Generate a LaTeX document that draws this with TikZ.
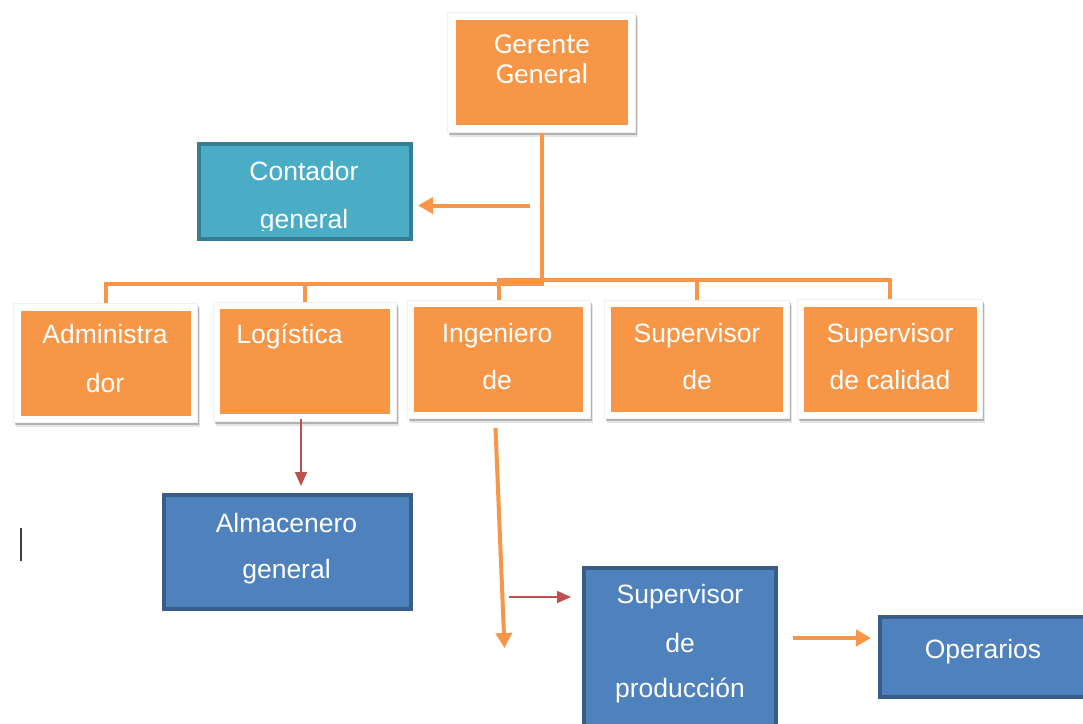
\documentclass[tikz,border=0pt]{standalone}
\usepackage{fontspec}
\newfontfamily\arial{Liberation Sans}
\newfontfamily\calib{Carlito}
\usetikzlibrary{arrows.meta,shadows}
\definecolor{org}{HTML}{F79646}
\definecolor{tealf}{HTML}{4BACC6}
\definecolor{teald}{HTML}{357D92}
\definecolor{bluef}{HTML}{4F81BD}
\definecolor{blued}{HTML}{385D8A}
\definecolor{redl}{HTML}{C0504D}
\begin{document}
\begin{tikzpicture}[x=1pt,y=-1pt,
 frame/.style={fill=white, draw=black!6, line width=1pt, inner sep=0,
   general shadow={shadow xshift=2pt, shadow yshift=-4pt, fill=black, opacity=0.10},
   general shadow={shadow xshift=1.5pt, shadow yshift=-2.5pt, fill=black, opacity=0.22}},
 obox/.style={fill=org, draw=none, inner sep=0},
 bbox/.style={fill=bluef, draw=blued, line width=4pt, inner sep=0},
 tbox/.style={fill=tealf, draw=teald, line width=4pt, inner sep=0},
 lbl/.style={text=white, inner sep=0, anchor=base, font=\arial\fontsize{26.5}{30}\selectfont},
 glbl/.style={lbl, font=\calib\fontsize{29}{30}\selectfont},
 conn/.style={draw=org, line width=4pt},
 oarrow/.style={draw=org, line width=4pt, -{Triangle[length=15pt,width=16pt]}},
 rarrow/.style={draw=redl, line width=1.5pt, -{Triangle[length=14pt,width=12pt]}},
]
\clip (0,0) rectangle (1083,723);
\fill[white] (0,0) rectangle (1083,723);

% top box
\node[frame, minimum width=188pt, minimum height=120pt] (gerF) at (541.5,72.5) {};
\node[obox, minimum width=172pt, minimum height=105pt] (ger) at (542,72.5) {};
\node[glbl] (gerT1) at (542,53) {Gerente};
\node[glbl] (gerT2) at (542,83) {General};

% contador
\node[tbox, minimum width=212pt, minimum height=95pt] (cont) at (305,191.5) {};
\node[lbl] (contT1) at (304,180) {Contador};
\begin{scope}
\clip (0,0) rectangle (1083,230.5);
\node[lbl] (contT2) at (304,228) {general};
\end{scope}

% second row
\node[frame, minimum width=184pt, minimum height=119pt] (admF) at (105.5,363) {};
\node[obox, minimum width=170pt, minimum height=105pt] (adm) at (106,363.5) {};
\node[lbl] (admT1) at (105,343) {Administra};
\node[lbl] (admT2) at (105,392) {dor};

\node[frame, minimum width=183pt, minimum height=119pt] (logF) at (305,362) {};
\node[obox, minimum width=170pt, minimum height=105pt] (log) at (305,361.5) {};
\node[lbl] (logT) at (289.5,343) {Logística};

\node[frame, minimum width=183pt, minimum height=118pt] (ingF) at (499,359.5) {};
\node[obox, minimum width=169pt, minimum height=105pt] (ing) at (498.5,359.5) {};
\node[lbl] (ingT1) at (497,342) {Ingeniero};
\node[lbl] (ingT2) at (497,389) {de};

\node[frame, minimum width=185pt, minimum height=118pt] (supF) at (697,359.5) {};
\node[obox, minimum width=172pt, minimum height=105pt] (sup) at (697,359.5) {};
\node[lbl] (supT1) at (697,342) {Supervisor};
\node[lbl] (supT2) at (697,389) {de};

\node[frame, minimum width=185pt, minimum height=119pt] (calF) at (890,359) {};
\node[obox, minimum width=173pt, minimum height=105pt] (cal) at (890.5,359.5) {};
\node[lbl] (calT1) at (890,342) {Supervisor};
\node[lbl] (calT2) at (890,389) {de calidad};

% blue boxes
\node[bbox, minimum width=247pt, minimum height=114pt] (alm) at (287.5,552) {};
\node[lbl] (almT1) at (286.5,532) {Almacenero};
\node[lbl] (almT2) at (286.5,578) {general};

\node[bbox, minimum width=192pt, minimum height=180pt] (sp) at (680,658) {};
\node[lbl] (spT1) at (680,603) {Supervisor};
\node[lbl] (spT2) at (680,652) {de};
\node[lbl] (spT3) at (680,697) {producción};

\node[bbox, minimum width=220pt, minimum height=80pt] (op) at (990,657) {};
\node[lbl] (opT) at (983,658) {Operarios};

% connectors
\coordinate (jl) at (543,283.5);
\coordinate (jr) at (499,280);
\draw[conn] (gerF.south) -- (gerF.south |- jl) -| (admF.north);
\draw[conn] (logF.north |- jl) -- (logF.north);
\draw[conn] (ingF.north) |- (calF.north |- jr) -- (calF.north);
\draw[conn] (supF.north |- jr) -- (supF.north);

\coordinate (ca) at (530,205.5);
\draw[oarrow] (ca) -- ([xshift=5pt]ca -| cont.east);

\coordinate (la) at (301,419);
\draw[rarrow, shorten >=7pt] (la) -- (la |- alm.north);

\coordinate (ia) at (495.5,428);
\coordinate (ib) at (504.5,648);
\draw[oarrow] (ia) -- (ib);

\coordinate (ra) at (509,597);
\draw[rarrow] (ra) -- ([xshift=-11pt]ra -| sp.west);

\coordinate (oa) at (793,638);
\draw[oarrow] (oa) -- ([xshift=-7pt]oa -| op.west);

% text cursor
\draw[line width=2pt, black!75] (21,528) -- (21,561);
\end{tikzpicture}
\end{document}
